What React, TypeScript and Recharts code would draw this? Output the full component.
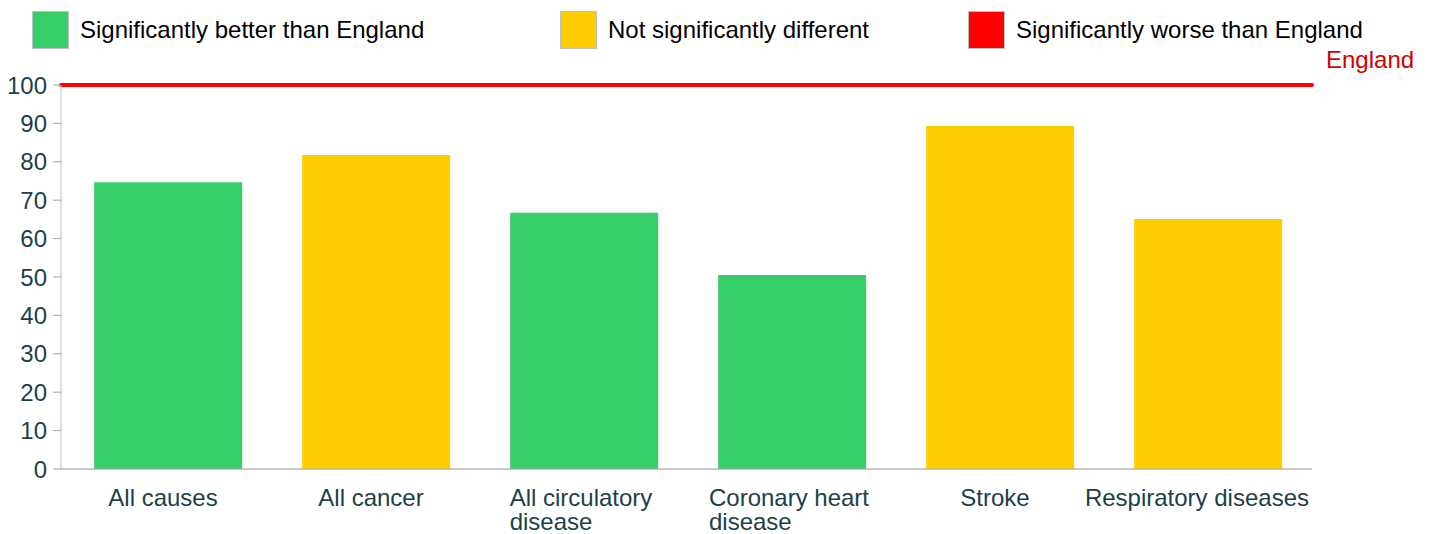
import React from "react";
import {
  BarChart,
  Bar,
  Cell,
  XAxis,
  YAxis,
  CartesianGrid,
  ReferenceLine,
} from "recharts";

// causes of death (\n = line break on the axis)
const categories = [
  "All causes",
  "All cancer",
  "All circulatory\ndisease",
  "Coronary heart\ndisease",
  "Stroke",
  "Respiratory diseases",
];
const values = [74.7, 81.8, 66.7, 50.5, 89.3, 65.1];
// 0 = better, 1 = not different, 2 = worse
const significance = [0, 1, 0, 0, 1, 1];

const legendLabels = [
  "Significantly better than England",
  "Not significantly different",
  "Significantly worse than England",
];
const legendColors = ["#37cd69", "#ffcc00", "#ff0000"];
const yTicks = [0, 10, 20, 30, 40, 50, 60, 70, 80, 90, 100];
const englandValue = 100;

const data = categories.map((name, i) => ({ name, value: values[i], sig: significance[i] }));

const FONT = "'Liberation Sans', Arial, sans-serif";
const FS = 24;
const W = 1429;
const RIGHT = 117;

function measure(text: string) {
  const c = document.createElement("canvas").getContext("2d");
  if (!c) return text.length * 12;
  c.font = `${FS}px ${FONT}`;
  return c.measureText(text).width;
}

function CategoryTick(props: any) {
  const { x, y, payload } = props;
  const lines = String(payload.value).split("\n");
  let cx = x - 5;
  if (lines.length === 1) {
    // keep long labels inside the plot's right edge
    const w = measure(lines[0]);
    const maxRight = W - RIGHT - 3;
    if (cx + w / 2 > maxRight) cx = maxRight - w / 2;
    return (
      <text x={cx} y={y + 37} textAnchor="middle" fontSize={FS} fontFamily={FONT} fill="#1d3f4a">
        {lines[0]}
      </text>
    );
  }
  const left = cx + 2 - measure(lines[0]) / 2;
  return (
    <text x={left} y={y + 37} textAnchor="start" fontSize={FS} fontFamily={FONT} fill="#1d3f4a">
      {lines.map((l, i) => (
        <tspan key={i} x={left} dy={i === 0 ? 0 : 24}>
          {l}
        </tspan>
      ))}
    </text>
  );
}

function EnglandLabel(props: any) {
  const { viewBox } = props;
  return (
    <text
      x={viewBox.x + viewBox.width + 14}
      y={viewBox.y - 17}
      fontSize={FS}
      fontFamily={FONT}
      fill="#d40000"
    >
      England
    </text>
  );
}

const legendX = [32, 560, 968];

export default function App() {
  return (
    <div style={{ position: "relative", width: W, height: 534, fontFamily: FONT }}>
      <style>{"body{margin:0}"}</style>
      {legendLabels.map((l, i) => (
        <div
          key={l}
          style={{ position: "absolute", left: legendX[i], top: 11, display: "flex", alignItems: "center" }}
        >
          <div
            style={{
              width: 37,
              height: 38,
              background: legendColors[i],
              border: "1px solid #bfbfbf",
              boxSizing: "border-box",
            }}
          />
          <span style={{ marginLeft: 11, fontSize: FS, color: "#000", lineHeight: "38px" }}>{l}</span>
        </div>
      ))}
      <BarChart
        width={W}
        height={534}
        data={data}
        margin={{ top: 85, right: RIGHT, bottom: 0, left: 0 }}
        barCategoryGap="14.5%"
      >
        <CartesianGrid vertical={false} stroke="#d9d9d9" />
        <XAxis
          dataKey="name"
          height={65}
          tickLine={false}
          tickSize={0}
          tickMargin={0}
          interval={0}
          padding={{ left: 3, right: 0 }}
          axisLine={{ stroke: "#a6a6a6" }}
          tick={<CategoryTick />}
        />
        <YAxis
          yAxisId="left"
          width={61}
          domain={[0, 100]}
          ticks={yTicks}
          interval={0}
          tickSize={8}
          tickMargin={6}
          axisLine={{ stroke: "#bfbfbf" }}
          tickLine={{ stroke: "#a6a6a6" }}
          tick={{ fontSize: FS, fontFamily: FONT, fill: "#1d3f4a" }}
        />
        <YAxis
          yAxisId="right"
          orientation="right"
          width={0}
          domain={[0, 100]}
          tick={false}
          tickLine={false}
          axisLine={{ stroke: "#d9d9d9" }}
        />
        <Bar dataKey="value" yAxisId="left" isAnimationActive={false}>
          {data.map((d, i) => (
            <Cell key={i} fill={legendColors[d.sig]} />
          ))}
        </Bar>
        <ReferenceLine
          yAxisId="left"
          y={englandValue}
          stroke="#ff0000"
          strokeWidth={4}
          strokeLinecap="round"
          label={<EnglandLabel />}
        />
      </BarChart>
    </div>
  );
}
